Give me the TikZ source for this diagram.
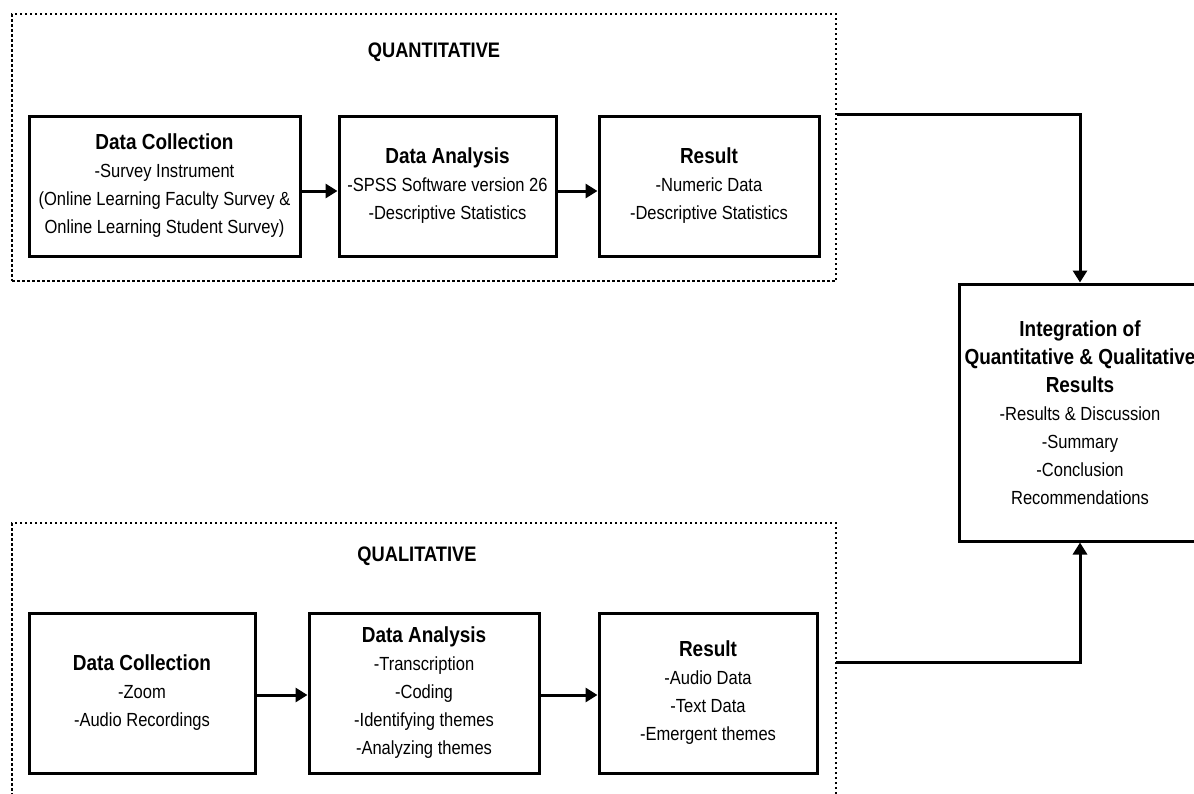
\documentclass[tikz,border=0pt]{standalone}
\usepackage{fontspec}
\setmainfont{Liberation Sans}[FakeStretch=0.87]
\usetikzlibrary{arrows.meta}

\tikzset{
  stage/.style={draw, line width=3pt, align=center, inner sep=0pt,
    font=\fontsize{19}{28}\selectfont},
  phase/.style={draw, line width=2.5pt, dash pattern=on 2.5pt off 2.5pt, inner sep=0pt},
  flow/.style={line width=3pt, -{Triangle[length=12pt,width=14pt]}},
  phasetitle/.style={font=\fontsize{21}{24}\selectfont\bfseries},
}
\newcommand{\stagehead}[1]{{\fontsize{21.8}{31}\selectfont\bfseries #1}}

\begin{document}
\begin{tikzpicture}[x=1pt,y=-1pt]
\useasboundingbox (0,0) rectangle (1194,793);

% dotted frames
\node [phase, minimum width=824pt, minimum height=267pt] (quant) at (424,147.5) {};
\node [phase, minimum width=824pt, minimum height=307pt] (qual) at (424,676.5) {};
\node [phasetitle] (quanttitle) at (434,52) {QUANTITATIVE};
\node [phasetitle] (qualtitle) at (417,556) {QUALITATIVE};

% quantitative strand
\node [stage, minimum width=271pt, minimum height=140pt] (qnDC) at (164.5,186)
  {\stagehead{Data Collection}\\-Survey Instrument\\(Online Learning Faculty Survey \&\\Online Learning Student Survey)};
\node [stage, minimum width=217pt, minimum height=140pt] (qnDA) at (447.5,186)
  {\stagehead{Data Analysis}\\-SPSS Software version 26\\-Descriptive Statistics};
\node [stage, minimum width=220pt, minimum height=140pt] (qnRes) at (709,186)
  {\stagehead{Result}\\-Numeric Data\\-Descriptive Statistics};

% qualitative strand
\node [stage, minimum width=226pt, minimum height=160pt] (qlDC) at (142,693)
  {\stagehead{Data Collection}\\-Zoom\\-Audio Recordings};
\node [stage, minimum width=230pt, minimum height=160pt] (qlDA) at (424,693)
  {\stagehead{Data Analysis}\\-Transcription\\-Coding\\-Identifying themes\\-Analyzing themes};
\node [stage, minimum width=218pt, minimum height=160pt] (qlRes) at (708,693)
  {\stagehead{Result}\\-Audio Data\\-Text Data\\-Emergent themes};

% integration
\node [stage, minimum width=242pt, minimum height=257pt] (integ) at (1080,412.5)
  {\stagehead{Integration of}\\\stagehead{Quantitative \& Qualitative}\\\stagehead{Results}\\-Results \& Discussion\\-Summary\\-Conclusion\\Recommendations};

\coordinate (qlout) at (836,662);

\draw [flow] ([yshift=-5pt]qnDC.east) -- ([yshift=-5pt]qnDA.west);
\draw [flow] ([yshift=-5pt]qnDA.east) -- ([yshift=-5pt]qnRes.west);
\draw [flow] ([yshift=-2pt]qlDC.east) -- ([yshift=-2pt]qlDA.west);
\draw [flow] ([yshift=-2pt]qlDA.east) -- ([yshift=-2pt]qlRes.west);
\draw [flow] (quant.east |- qnRes.north) -| (integ.north);
\draw [flow] (qlout) -| (integ.south);
\end{tikzpicture}
\end{document}
